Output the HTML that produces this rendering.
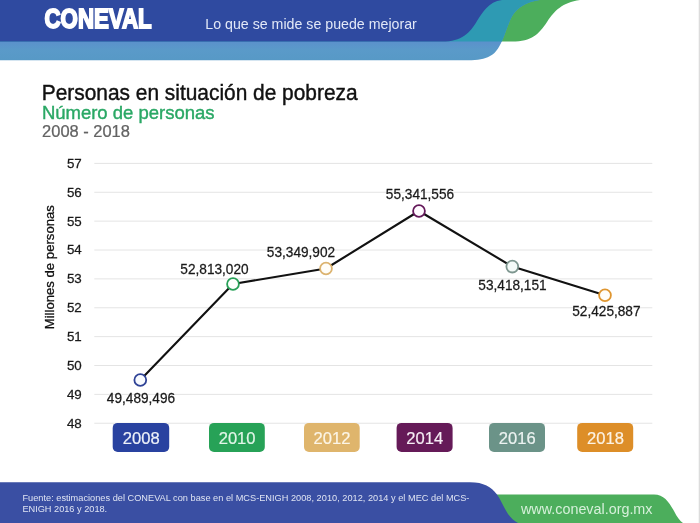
<!DOCTYPE html>
<html lang="es">
<head>
<meta charset="utf-8">
<title>CONEVAL - Personas en situación de pobreza</title>
<style>
html,body{margin:0;padding:0;background:#fff;}
body{width:700px;height:523px;overflow:hidden;font-family:"Liberation Sans",sans-serif;}
svg{display:block;}
text{font-family:"Liberation Sans",sans-serif;}
</style>
</head>
<body>
<svg width="700" height="523" viewBox="0 0 700 523">
  <rect width="700" height="523" fill="#ffffff"/>
  <rect x="698.7" y="0" width="1.3" height="523" fill="#dcdcdc"/>

  <!-- header -->
  <g id="header">
    <clipPath id="topband"><rect x="0" y="0" width="700" height="41.6"/></clipPath>
    <linearGradient id="lightband" gradientUnits="userSpaceOnUse" x1="0" y1="41.6" x2="0" y2="60.2">
      <stop offset="0" stop-color="#5b91cc"/>
      <stop offset="0.45" stop-color="#5a9ac9"/>
      <stop offset="1" stop-color="#5799c6"/>
    </linearGradient>
    <path d="M0 0 H580 C562 3 555 10 547 22 C539 34 532 41.6 512 41.6 H0 Z" fill="#4cae5c"/>
    <path d="M0 0 H540 C522 3 514 10 509 23 C505 33 503 40 500 45 C495 55 488 60.2 468 60.2 H0 Z" fill="url(#lightband)"/>
    <path d="M0 0 H540 C522 3 514 10 509 23 C505 33 503 40 500 45 C495 55 488 60 468 60 H0 Z" fill="#2e9ab3" clip-path="url(#topband)"/>
    <path d="M0 0 H502 C488 2 483 12 477 21 C470 33 462 41.6 442 41.6 H0 Z" fill="#2f4aa0"/>
    <text x="44.5" y="27.9" font-size="27.2" font-weight="bold" fill="#ffffff" stroke="#ffffff" stroke-width="1.8" stroke-linejoin="miter" textLength="107.2" lengthAdjust="spacingAndGlyphs">CONEVAL</text>
    <text x="205.3" y="29" font-size="14.8" fill="#e2e8f7" textLength="211.5" lengthAdjust="spacingAndGlyphs">Lo que se mide se puede mejorar</text>
  </g>

  <!-- titles -->
  <text transform="translate(41.8 100.2) scale(1 1.07)" font-size="20.9" fill="#111111" stroke="#111111" stroke-width="0.4">Personas en situación de pobreza</text>
  <text transform="translate(41.9 118.8) scale(1 1.04)" font-size="18.5" fill="#2aa865" stroke="#2aa865" stroke-width="0.4">Número de personas</text>
  <text transform="translate(42.1 136.7) scale(1 0.975)" font-size="16.45" fill="#636363" stroke="#636363" stroke-width="0.25">2008 - 2018</text>

  <!-- grid -->
  <path d="M94.3 423.23H652.3M94.3 394.36H652.3M94.3 365.49H652.3M94.3 336.62H652.3M94.3 307.75H652.3M94.3 278.88H652.3M94.3 250.01H652.3M94.3 221.14H652.3M94.3 192.27H652.3M94.3 163.40H652.3" stroke="#e4e4e4" stroke-width="1" fill="none"/>
  <g font-size="13.35" fill="#1a1a1a" stroke="#1a1a1a" stroke-width="0.25" text-anchor="middle">
    <text transform="translate(74.30 167.80) scale(1 1.02)">57</text>
    <text transform="translate(74.30 196.67) scale(1 1.02)">56</text>
    <text transform="translate(74.30 225.54) scale(1 1.02)">55</text>
    <text transform="translate(74.30 254.41) scale(1 1.02)">54</text>
    <text transform="translate(74.30 283.28) scale(1 1.02)">53</text>
    <text transform="translate(74.30 312.15) scale(1 1.02)">52</text>
    <text transform="translate(74.30 341.02) scale(1 1.02)">51</text>
    <text transform="translate(74.30 369.89) scale(1 1.02)">50</text>
    <text transform="translate(74.30 398.76) scale(1 1.02)">49</text>
    <text transform="translate(74.30 427.63) scale(1 1.02)">48</text>
  </g>
  <text transform="translate(53.8 267.2) rotate(-90)" font-size="13.15" fill="#111" stroke="#111" stroke-width="0.3" text-anchor="middle">Millones de personas</text>

  <!-- line -->
  <polyline points="140.3,380.0 233.0,284.0 326.0,268.5 419.0,211.0 512.3,266.6 605.0,295.2" fill="none" stroke="#111" stroke-width="2.1" stroke-linejoin="round"/>
  <g stroke-width="1.8">
    <circle cx="140.3" cy="380.0" r="5.9" stroke="#2f4396" fill="#f8fbff"/>
    <circle cx="233.0" cy="284.0" r="5.9" stroke="#27a057" fill="#fbfffc"/>
    <circle cx="326.0" cy="268.5" r="5.9" stroke="#dcb36f" fill="#fffdf8"/>
    <circle cx="419.0" cy="211.0" r="5.9" stroke="#64195a" fill="#fffaff"/>
    <circle cx="512.3" cy="266.6" r="5.9" stroke="#7d968f" fill="#f4faf8"/>
    <circle cx="605.0" cy="295.2" r="5.9" stroke="#df9630" fill="#fffefa"/>
  </g>
  <g font-size="13.65" fill="#1a1a1a" stroke="#1a1a1a" stroke-width="0.25" text-anchor="middle">
    <text transform="translate(141.00 402.50) scale(1 1.01)">49,489,496</text>
    <text transform="translate(214.50 274.30) scale(1 1.01)">52,813,020</text>
    <text transform="translate(301.00 257.20) scale(1 1.01)">53,349,902</text>
    <text transform="translate(420.00 199.20) scale(1 1.01)">55,341,556</text>
    <text transform="translate(512.50 289.70) scale(1 1.01)">53,418,151</text>
    <text transform="translate(606.40 315.70) scale(1 1.01)">52,425,887</text>
  </g>

  <!-- year buttons -->
  <g>
    <rect x="112.7" y="422.9" width="56.5" height="29" rx="5" fill="#2942a0"/>
    <rect x="209" y="422.9" width="55.8" height="29" rx="5" fill="#27a257"/>
    <rect x="304" y="422.9" width="55.7" height="29" rx="5" fill="#dfb56c"/>
    <rect x="396.6" y="422.9" width="56.0" height="29" rx="5" fill="#651a58"/>
    <rect x="489" y="422.9" width="56.0" height="29" rx="5" fill="#6b9388"/>
    <rect x="577.2" y="422.9" width="56.0" height="29" rx="5" fill="#dd8e28"/>
  </g>
  <g font-size="16.6" stroke-width="0.2" text-anchor="middle">
    <text transform="translate(141.15 443.50) scale(1 0.98)" fill="#eef1f9" stroke="#eef1f9">2008</text>
    <text transform="translate(237.10 443.50) scale(1 0.98)" fill="#e2f6e8" stroke="#e2f6e8">2010</text>
    <text transform="translate(332.05 443.50) scale(1 0.98)" fill="#fcf5e6" stroke="#fcf5e6">2012</text>
    <text transform="translate(424.80 443.50) scale(1 0.98)" fill="#f5ecf4" stroke="#f5ecf4">2014</text>
    <text transform="translate(517.20 443.50) scale(1 0.98)" fill="#ecf3f1" stroke="#ecf3f1">2016</text>
    <text transform="translate(605.40 443.50) scale(1 0.98)" fill="#fcf2e3" stroke="#fcf2e3">2018</text>
  </g>

  <!-- footer -->
  <g id="footer">
    <path d="M480 523 V494.4 H654 C664 494.4 669 502 674 511 C677 517 680 521 683 523 Z" fill="#4cae5c"/>
    <path d="M0 482.3 H470 C484 482.3 491 487 497 494.4 C501 500 504 508 508 514 C511 518 514 521 518 523 H0 Z" fill="#3a4fa3"/>
    <text x="22.4" y="501" font-size="9.2" fill="#dfe4f3" textLength="447" lengthAdjust="spacing">Fuente: estimaciones del CONEVAL con base en el MCS-ENIGH 2008, 2010, 2012, 2014 y el MEC del MCS-</text>
    <text x="22.4" y="512.4" font-size="9.2" fill="#dfe4f3">ENIGH 2016 y 2018.</text>
    <text x="521" y="514" font-size="14" fill="#d6f0da" textLength="131.5" lengthAdjust="spacingAndGlyphs">www.coneval.org.mx</text>
  </g>
</svg>
</body>
</html>
